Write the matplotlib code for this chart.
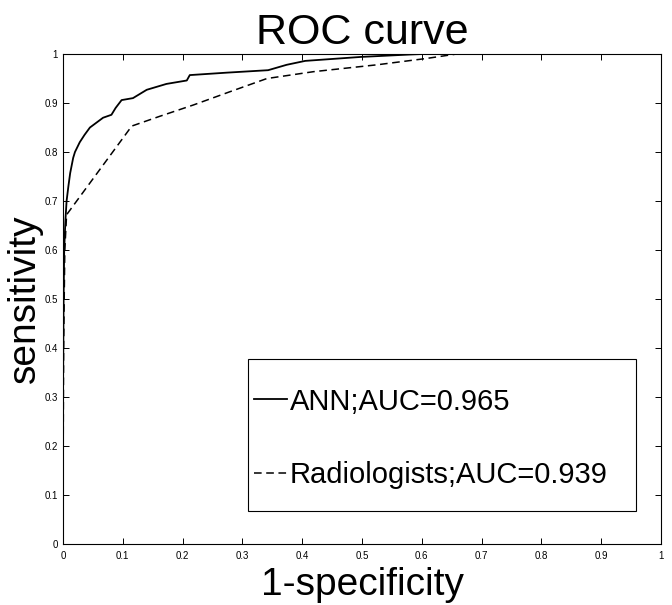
import numpy as np
import matplotlib.pyplot as plt
from matplotlib.patches import Rectangle

plt.rcParams['font.family'] = ['Liberation Sans', 'DejaVu Sans']

# ROC points
ann_fpr = [0, 0, 0.001, 0.002, 0.004, 0.006, 0.009, 0.012, 0.017, 0.020, 0.028, 0.036,
           0.045, 0.056, 0.067, 0.081, 0.088, 0.098, 0.117, 0.14, 0.173, 0.207, 0.212,
           0.274, 0.343, 0.374, 0.405, 0.497, 0.58, 0.60, 1.0]
ann_tpr = [0, 0.30, 0.50, 0.60, 0.66, 0.70, 0.73, 0.757, 0.788, 0.80, 0.82, 0.835,
           0.85, 0.86, 0.87, 0.876, 0.89, 0.906, 0.91, 0.927, 0.939, 0.946, 0.957,
           0.962, 0.967, 0.978, 0.986, 0.994, 0.999, 1.0, 1.0]

rad_fpr = [0, 0, 0.001, 0.003, 0.006, 0.115, 0.162, 0.218, 0.279, 0.341, 0.419,
           0.525, 0.608, 0.658, 1.0]
rad_tpr = [0, 0.10, 0.40, 0.60, 0.672, 0.853, 0.873, 0.896, 0.923, 0.95, 0.964,
           0.978, 0.991, 1.0, 1.0]

labels = ["ANN;AUC=0.965", "Radiologists;AUC=0.939"]
ticks = np.arange(0, 1.01, 0.1)
tick_labels = ["0", "0.1", "0.2", "0.3", "0.4", "0.5", "0.6", "0.7", "0.8", "0.9", "1"]

fig = plt.figure(figsize=(6.72, 6.05), dpi=100)
ax = fig.add_axes([0.09375, 0.1008, 0.8899, 0.8099])

ax.plot(ann_fpr, ann_tpr, 'k', linewidth=1.3, label=labels[0])
ax.plot(rad_fpr, rad_tpr, 'k', linewidth=1.1, dashes=(5, 3), label=labels[1])

ax.set_xlim(0, 1)
ax.set_ylim(0, 1)
ax.set_xticks(ticks)
ax.set_yticks(ticks)
ax.set_xticklabels(tick_labels)
ax.set_yticklabels(tick_labels)
ax.tick_params(direction='in', top=True, right=True, length=4, width=0.7,
               labelsize=7, colors='black')
ax.tick_params(axis='x', pad=5)
for s in ax.spines.values():
    s.set_linewidth(0.8)

ax.set_title("ROC curve", fontsize=31, pad=7)
ax.set_xlabel("1-specificity", fontsize=28, labelpad=4)
ax.set_ylabel("sensitivity", fontsize=28, labelpad=1)

# legend entries without frame, box drawn separately (wider than the entries)
leg = ax.legend(loc='upper left', bbox_to_anchor=(0.3194, 0.3194), fontsize=21,
                frameon=False, handlelength=1.12, handletextpad=0.1,
                borderpad=0, labelspacing=1.57, borderaxespad=0)
ax.add_patch(Rectangle((0.309, 0.0673), 0.649, 0.310, transform=ax.transAxes,
                       fill=False, edgecolor='black', linewidth=0.8, zorder=6))

plt.savefig("out.png")
